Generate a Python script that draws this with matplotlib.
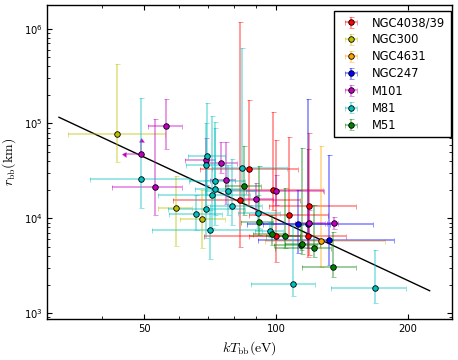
import numpy as np
import matplotlib
matplotlib.use("Agg")
import matplotlib.pyplot as plt
from matplotlib.ticker import FixedLocator, LogLocator, NullFormatter, FormatStrFormatter

# kT_bb (eV), r_bb (km) and the two ends of every error bar

# NGC4038/39
n4038_kt = [86.9, 82.5, 98.3, 118.9, 107.3, 100.0, 118.0]
n4038_kt_lo = [67.0, 58.2, 77.6, 96.5, 86.9, 68.4, 86.9]
n4038_kt_hi = [112.3, 113.5, 128.3, 152.5, 131.1, 113.5, 144.6]
n4038_r = [33500, 15600, 20100, 13500, 10750, 6470, 6500]
n4038_r_lo = [13800, 4980, 12200, 4100, 6670, 3480, 3880]
n4038_r_hi = [177000, 1168000, 131000, 78800, 72600, 67000, 53800]

# NGC300
n300_kt = [43.3, 59.0, 67.8]
n300_kt_lo = [33.4, 53.8, 60.3]
n300_kt_hi = [55.6, 64.3, 76.6]
n300_r = [76900, 12900, 9830]
n300_r_lo = [38970, 5100, 4860]
n300_r_hi = [421000, 28100, 19900]

# NGC4631
n4631_kt = [126.6]
n4631_kt_lo = [94.4]
n4631_kt_hi = [177.0]
n4631_r = [5735]
n4631_r_lo = [3087]
n4631_r_hi = [58300]

# NGC247
n247_kt = [112.0, 118.6, 132.1]
n247_kt_lo = [93.4, 85.9, 91.1]
n247_kt_hi = [133.0, 166.2, 185.6]
n247_r = [8710, 8770, 5975]
n247_r_lo = [4275, 4860, 3217]
n247_r_hi = [19900, 182600, 46500]

# M101 (second source is a limit: kT upper limit, r lower limit)
m101_kt = [56.0, 49.0, 52.9, 69.0, 75.0, 76.8, 90.0, 100.0, 119.0, 135.3]
m101_kt_lo = [51.0, 45.5, 42.1, 61.9, 69.8, 70.6, 82.7, 85.4, 110.6, 130.7]
m101_kt_hi = [61.1, 49.0, 61.1, 72.5, 81.3, 80.6, 98.6, 128.8, 129.5, 138.2]
m101_r = [93400, 47650, 21230, 41200, 38000, 25350, 15980, 19630, 9030, 8920]
m101_r_lo = [53800, 47650, 10830, 22450, 29830, 14150, 10830, 13800, 6500, 7710]
m101_r_hi = [180000, 64300, 111600, 70800, 63800, 63800, 23570, 28630, 12230, 10300]
m101_kt_uplim = [False, True, False, False, False, False, False, False, False, False]
m101_r_lolim = [False, True, False, False, False, False, False, False, False, False]

# M81
m81_kt = [49.2, 69.6, 69.2, 83.7, 72.5, 72.6, 71.5, 77.8, 69.2, 65.6, 79.4, 70.6,
          90.8, 96.9, 109.3, 168.1]
m81_kt_lo = [37.6, 62.8, 62.2, 71.4, 63.2, 65.3, 53.8, 68.8, 56.5, 56.9, 70.6, 52.1,
             82.0, 89.5, 87.8, 133.7]
m81_kt_hi = [63.6, 76.4, 76.6, 105.8, 84.9, 82.7, 87.2, 89.5, 84.9, 75.1, 92.9, 92.9,
             102.1, 103.6, 123.0, 198.5]
m81_r = [25790, 45730, 36660, 33930, 24930, 20230, 17400, 19550, 12530, 11180, 13420,
         7618, 11460, 7346, 2052, 1853]
m81_r_lo = [12750, 17610, 13800, 15600, 10830, 8495, 7900, 10830, 6150, 7525, 8495,
            3694, 7900, 6303, 1515, 1288]
m81_r_hi = [187200, 163300, 100500, 621300, 104500, 89650, 120000, 36490, 25350, 17610,
            42220, 12230, 17610, 9140, 8495, 4630]

# M51
m51_kt = [84.3, 91.6, 98.1, 104.9, 113.8, 114.9, 122.2, 134.7]
m51_kt_lo = [76.4, 83.2, 88.6, 94.9, 99.0, 104.9, 99.5, 114.5]
m51_kt_hi = [92.3, 98.6, 104.9, 113.5, 123.9, 126.1, 133.7, 152.5]
m51_r = [22020, 9075, 6797, 6554, 5230, 5400, 4920, 3086]
m51_r_lo = [10830, 6670, 5230, 4826, 4630, 4200, 3936, 2386]
m51_r_hi = [58300, 35900, 10830, 20730, 8495, 54730, 13800, 7220]

# fitted relation drawn across the plot
line_kt = [31.9, 224.4]
line_r = [116300, 1723]


def bars(v, lo, hi):
    v = np.asarray(v, float)
    return np.vstack([v - np.asarray(lo, float), np.asarray(hi, float) - v])


none = lambda n: [False] * n

galaxies = [
    ("NGC4038/39", "r", n4038_kt, n4038_kt_lo, n4038_kt_hi, n4038_r, n4038_r_lo, n4038_r_hi,
     none(len(n4038_kt)), none(len(n4038_kt))),
    ("NGC300", "y", n300_kt, n300_kt_lo, n300_kt_hi, n300_r, n300_r_lo, n300_r_hi,
     none(len(n300_kt)), none(len(n300_kt))),
    ("NGC4631", "orange", n4631_kt, n4631_kt_lo, n4631_kt_hi, n4631_r, n4631_r_lo, n4631_r_hi,
     none(1), none(1)),
    ("NGC247", "b", n247_kt, n247_kt_lo, n247_kt_hi, n247_r, n247_r_lo, n247_r_hi,
     none(len(n247_kt)), none(len(n247_kt))),
    ("M101", "m", m101_kt, m101_kt_lo, m101_kt_hi, m101_r, m101_r_lo, m101_r_hi,
     m101_kt_uplim, m101_r_lolim),
    ("M81", "c", m81_kt, m81_kt_lo, m81_kt_hi, m81_r, m81_r_lo, m81_r_hi,
     none(len(m81_kt)), none(len(m81_kt))),
    ("M51", "g", m51_kt, m51_kt_lo, m51_kt_hi, m51_r, m51_r_lo, m51_r_hi,
     none(len(m51_kt)), none(len(m51_kt))),
]

fig = plt.figure(figsize=(4.58, 3.6), dpi=100)
ax = fig.add_axes([0.1033, 0.1147, 0.8829, 0.8706])
ax.set_xscale("log")
ax.set_yscale("log")

ax.plot(line_kt, line_r, color="k", lw=1.0, zorder=1.5)

for name, col, kt, kt_lo, kt_hi, r, r_lo, r_hi, xup, lol in galaxies:
    ax.errorbar(kt, r, xerr=bars(kt, kt_lo, kt_hi), yerr=bars(r, r_lo, r_hi),
                xuplims=xup, lolims=lol,
                fmt="o", color=col, ecolor=(col, 0.5), mec="k", mew=0.6, ms=4,
                elinewidth=1.1, capsize=1.8, label=name)

ax.set_xlim(30, 252)
ax.set_ylim(873, 1.765e6)

ax.xaxis.set_major_locator(FixedLocator([50, 100, 200]))
ax.xaxis.set_major_formatter(FormatStrFormatter("%d"))
ax.xaxis.set_minor_locator(LogLocator(subs=np.arange(2, 10)))
ax.xaxis.set_minor_formatter(NullFormatter())
ax.yaxis.set_minor_formatter(NullFormatter())
ax.tick_params(which="both", direction="in", top=True, right=True, labelsize=7.2)
ax.tick_params(which="major", length=3.5)
ax.tick_params(which="minor", length=2)
for s in ax.spines.values():
    s.set_linewidth(1.0)

ax.set_xlabel(r"$kT_{\rm bb}({\rm eV})$", fontsize=10, math_fontfamily="cm")
ax.set_ylabel(r"$r_{\rm bb}({\rm km})$", fontsize=10, math_fontfamily="cm")

ax.legend(loc="upper right", bbox_to_anchor=(0.998, 0.983), borderaxespad=0,
          numpoints=1, fontsize=8.3, fancybox=False, edgecolor="k", framealpha=1,
          handlelength=2, handletextpad=0.8, borderpad=0.5, labelspacing=0.35)

fig.savefig("out.png", dpi=100)
